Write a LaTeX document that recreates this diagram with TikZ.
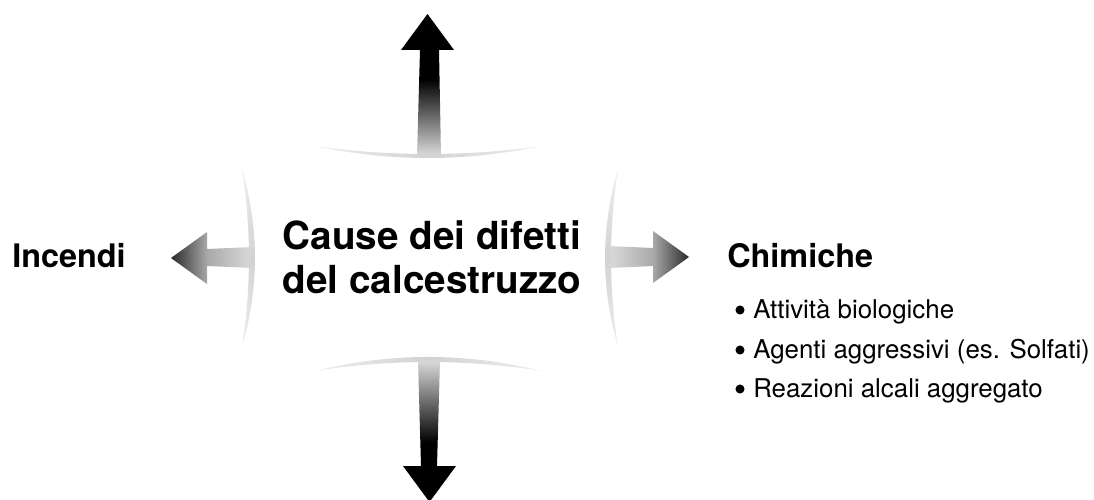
\documentclass[tikz,border=0pt]{standalone}
\usepackage{fontspec}
\setmainfont{TeX Gyre Heros}
\definecolor{lg}{HTML}{DCDCDC}
\definecolor{md}{HTML}{A8A8A8}
\definecolor{dk}{HTML}{2A2A2A}
\definecolor{arcmid}{HTML}{D2D2D2}
\definecolor{arcend}{HTML}{EFEFEF}
\pgfdeclareverticalshading{upshade}{100bp}{color(0bp)=(lg); color(25bp)=(lg); color(52bp)=(black); color(100bp)=(black)}
\pgfdeclareverticalshading{downshade}{100bp}{color(0bp)=(black); color(46bp)=(black); color(75bp)=(lg); color(100bp)=(lg)}
\pgfdeclarehorizontalshading{leftshade}{100bp}{color(0bp)=(dk); color(25bp)=(dk); color(47bp)=(md); color(75bp)=(lg); color(100bp)=(lg)}
\pgfdeclarehorizontalshading{rightshade}{100bp}{color(0bp)=(lg); color(25bp)=(lg); color(53bp)=(md); color(75bp)=(dk); color(100bp)=(dk)}
\tikzset{
  arcH/.style={left color=arcend, right color=arcend, middle color=arcmid, draw=none},
  arcV/.style={top color=arcend, bottom color=arcend, middle color=arcmid, draw=none},
  maintext/.style={anchor=base, inner sep=0pt, font=\fontsize{29}{33}\selectfont\bfseries},
  headtext/.style={anchor=base west, inner sep=0pt, font=\fontsize{24.3}{28}\selectfont\bfseries},
  itemtext/.style={anchor=base west, inner sep=0pt, font=\fontsize{19.4}{23}\selectfont},
  bulletdot/.style={circle, fill=black, inner sep=0pt, minimum size=6.8pt}
}
\begin{document}
\begin{tikzpicture}[x=0.75pt,y=-0.75pt]
\useasboundingbox[fill=white] (0,0) rectangle (1094,499);

% arrows
\shade[shading=upshade] (427.5,14) -- (454,50) -- (439,50) -- (441,156) -- (417,156) -- (420,50) -- (401,50) -- cycle;
\shade[shading=downshade] (418,360) -- (440,360) -- (437,466) -- (456,466) -- (429.5,502) -- (403,466) -- (421,466) -- cycle;
\shade[shading=leftshade] (253,247) -- (253,268) -- (207,266) -- (207,284) -- (171,258) -- (207,232) -- (207,249) -- cycle;
\shade[shading=rightshade] (608,246) -- (653,248) -- (653,231) -- (689,257) -- (653,283) -- (653,266) -- (608,268) -- cycle;

% frame arcs
\shade[arcH] (315,146) .. controls (390.3,162) and (465.7,162) .. (541,146) .. controls (465.7,156.7) and (390.3,156.7) .. (315,146) -- cycle;
\shade[arcH] (315,371) .. controls (390.3,352.3) and (465.7,352.3) .. (542,371) .. controls (465.7,359) and (390.3,359) .. (315,371) -- cycle;
\shade[arcV] (242,169) .. controls (259.3,228.3) and (259.3,287.7) .. (242,347) .. controls (251.3,287.7) and (251.3,228.3) .. (242,169) -- cycle;
\shade[arcV] (618,169) .. controls (600.7,228.3) and (600.7,287.7) .. (618,347) .. controls (608.7,287.7) and (608.7,228.3) .. (618,169) -- cycle;

% texts
\node[maintext] (c1) at (432,249) {Cause dei difetti};
\node[maintext] (c2) at (432,293) {del calcestruzzo};
\node[headtext] (inc) at (12,267) {Incendi};
\node[headtext] (chim) at (727,267) {Chimiche};
\node[bulletdot] (b1) at (740,310) {};
\node[bulletdot] (b2) at (740,350) {};
\node[bulletdot] (b3) at (740,389) {};
\node[itemtext] (i1) at (753,318) {Attività biologiche};
\node[itemtext] (i2) at (753,358) {Agenti aggressivi (es. Solfati)};
\node[itemtext] (i3) at (753,397) {Reazioni alcali aggregato};
\end{tikzpicture}
\end{document}
